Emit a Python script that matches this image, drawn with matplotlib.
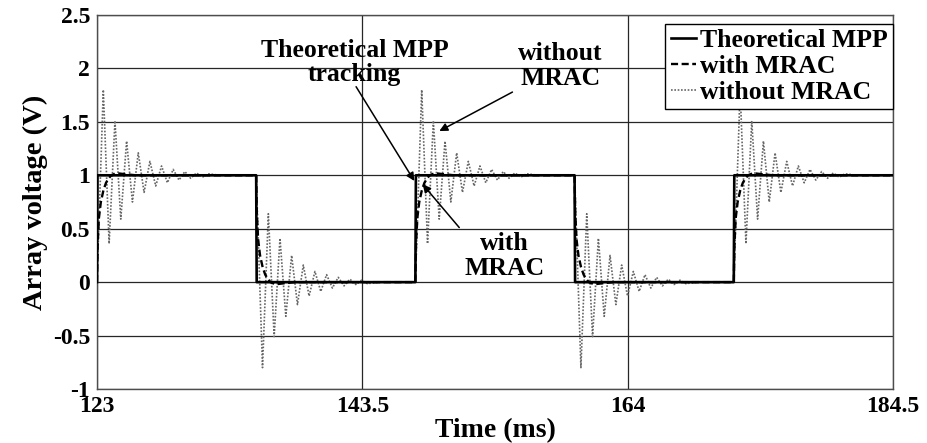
import matplotlib
matplotlib.use("Agg")
import matplotlib.pyplot as plt
import numpy as np

# Switching instants of the theoretical MPP square wave (ms) and step direction
edge_times = [123.0, 135.3, 147.6, 159.9, 172.2]
edge_dirs = [1, -1, 1, -1, 1]          # 1 = step up to 1 V, -1 = step down to 0 V
t_end = 184.5

# Step response with MRAC: time after the switching instant (ms) and normalised value
mrac_dt = [0.0, 0.05, 0.15, 0.3, 0.5, 0.7, 0.9, 1.1, 1.5, 2.2, 3.0]
mrac_val = [0.0, 0.35, 0.60, 0.75, 0.86, 0.93, 0.97, 1.00, 1.02, 1.01, 1.00]

# Step response without MRAC (peaks and troughs of the ringing)
nomrac_dt = [0.0, 0.49, 0.94, 1.39, 1.84, 2.29, 2.74, 3.19, 3.64, 4.09, 4.54,
             4.99, 5.44, 5.89, 6.34, 6.79, 7.24, 7.69, 8.14, 8.59, 9.5]
nomrac_val = [0.0, 1.80, 0.36, 1.51, 0.59, 1.32, 0.75, 1.21, 0.84, 1.13, 0.90,
              1.087, 0.93, 1.055, 0.955, 1.035, 0.972, 1.022, 0.982, 1.014, 1.0]

x_ticks = [123, 143.5, 164, 184.5]
x_ticklabels = ["123", "143.5", "164", "184.5"]
y_ticks = [-1, -0.5, 0, 0.5, 1, 1.5, 2, 2.5]
y_ticklabels = ["-1", "-0.5", "0", "0.5", "1", "1.5", "2", "2.5"]


def build_series(dt, val):
    """Place a normalised step response after every switching instant."""
    ts, vs = [], []
    for i, (t0, d) in enumerate(zip(edge_times, edge_dirs)):
        t_next = edge_times[i + 1] if i + 1 < len(edge_times) else t_end
        for a, b in zip(dt, val):
            if t0 + a < t_next:
                ts.append(t0 + a)
                vs.append(b if d > 0 else 1.0 - b)
        ts.append(t_next)
        vs.append(1.0 if d > 0 else 0.0)
    return np.array(ts), np.array(vs)


def theoretical():
    ts, vs = [], []
    for i, (t0, d) in enumerate(zip(edge_times, edge_dirs)):
        t_next = edge_times[i + 1] if i + 1 < len(edge_times) else t_end
        lo, hi = (0.0, 1.0) if d > 0 else (1.0, 0.0)
        ts += [t0, t0 + 0.04, t_next]
        vs += [lo, hi, hi]
    return np.array(ts), np.array(vs)


plt.rcParams["font.family"] = ["Liberation Serif", "DejaVu Serif"]
plt.rcParams["font.weight"] = "bold"

fig = plt.figure(figsize=(9.27, 4.43), dpi=100)
ax = fig.add_axes([0.1046, 0.1219, 0.8587, 0.8442])

t_th, v_th = theoretical()
t_m, v_m = build_series(mrac_dt, mrac_val)
t_n, v_n = build_series(nomrac_dt, nomrac_val)

ax.plot(t_n, v_n, color="0.4", lw=1.2, linestyle=(0, (1, 1)), label="without MRAC", zorder=2)
ax.plot(t_m, v_m, color="black", lw=1.7, linestyle=(0, (3, 1.5)), label="with MRAC", zorder=3)
ax.plot(t_th, v_th, color="black", lw=1.9, label="Theoretical MPP", zorder=4)

ax.set_xlim(123, 184.5)
ax.set_ylim(-1, 2.5)
ax.set_xticks(x_ticks)
ax.set_xticklabels(x_ticklabels)
ax.set_yticks(y_ticks)
ax.set_yticklabels(y_ticklabels)
ax.tick_params(length=0, labelsize=17, pad=5)
ax.grid(True, color="0.15", lw=0.9)
ax.set_axisbelow(True)
for s in ax.spines.values():
    s.set_color("0.3")
    s.set_linewidth(1.0)

ax.set_xlabel("Time (ms)", fontsize=20, fontweight="bold", labelpad=1)
ax.set_ylabel("Array voltage (V)", fontsize=20.5, fontweight="bold", labelpad=3)

handles, labels = ax.get_legend_handles_labels()
order = [2, 1, 0]
leg = ax.legend([handles[i] for i in order], [labels[i] for i in order],
                loc="upper right", bbox_to_anchor=(1.0, 0.976), borderaxespad=0,
                fontsize=18.5, handlelength=1.0, handletextpad=0.15,
                labelspacing=0.12, borderpad=0.2, fancybox=False,
                edgecolor="black", framealpha=1)
leg.get_frame().set_linewidth(1.0)
leg.set_zorder(10)

txt_kw = dict(fontsize=18.5, fontweight="bold", ha="center", va="center",
              multialignment="center", linespacing=1.1, zorder=6)
ax.text(142.9, 2.056, "Theoretical MPP\ntracking", **txt_kw)
ax.text(158.78, 2.023, "without\nMRAC", **txt_kw)
ax.text(154.46, 0.248, "with\nMRAC", **txt_kw)

arrow_kw = dict(arrowstyle="-|>", color="black", lw=1.1, mutation_scale=12,
                shrinkA=0, shrinkB=0)
ax.annotate("", xy=(147.52, 0.947), xytext=(143.02, 1.829), arrowprops=arrow_kw, zorder=6)
ax.annotate("", xy=(149.45, 1.414), xytext=(155.10, 1.779), arrowprops=arrow_kw, zorder=6)
ax.annotate("", xy=(148.16, 0.916), xytext=(150.99, 0.511), arrowprops=arrow_kw, zorder=6)

fig.savefig("out.png", dpi=100)
